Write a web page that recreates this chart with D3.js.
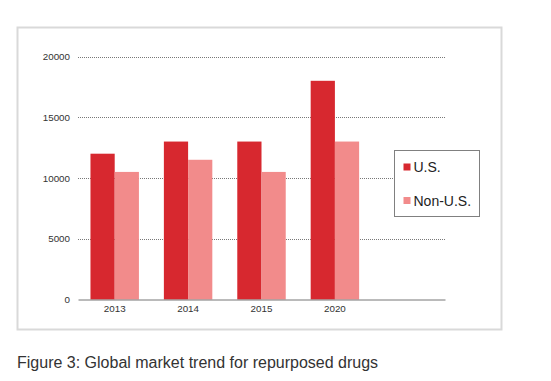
<!DOCTYPE html>
<html><head><meta charset="utf-8">
<script src="https://cdn.jsdelivr.net/npm/d3@7"></script>
<style>body{margin:0;background:#fff;font-family:"Liberation Sans",Arial,sans-serif;}</style>
</head><body>
<svg id="c" width="551" height="381"></svg>
<script>
const categories = ["2013", "2014", "2015", "2020"];
const usValues = [12000, 13000, 13000, 18000];
const nonUsValues = [10500, 11500, 10500, 13000];
const seriesNames = ["U.S.", "Non-U.S."];
const yTicks = [0, 5000, 10000, 15000, 20000];
const caption = "Figure 3: Global market trend for repurposed drugs";

(function () {
const colors = ["#d7282f", "#f28b8b"];
const svg = d3.select("#c");
const ff = "Liberation Sans, Arial, sans-serif";

// outer frame
svg.append("rect").attr("x", 17.5).attr("y", 27.5).attr("width", 484).attr("height", 302)
  .attr("fill", "#fff").attr("stroke", "#d9d9d9").attr("stroke-width", 2);

const pLeft = 78, pRight = 445, pTop = 56.5, pBottom = 299.5;
const x = d3.scaleBand().domain([...categories, ""]).range([pLeft, pRight])
  .paddingInner(0.34).paddingOuter(0.17);
const xs = d3.scaleBand().domain(seriesNames).range([0, x.bandwidth()]);
const y = d3.scaleLinear().domain([0, 20000]).range([pBottom, pTop]);

// gridlines
svg.append("g").selectAll("line").data(yTicks.filter(d => d > 0)).join("line")
  .attr("x1", pLeft).attr("x2", pRight)
  .attr("y1", d => Math.round(y(d)) + 0.5).attr("y2", d => Math.round(y(d)) + 0.5)
  .attr("stroke", "#555").attr("stroke-width", 0.8).attr("stroke-dasharray", "1,1");

// y axis labels
const yAxis = d3.axisLeft(y).tickValues(yTicks).tickSize(0).tickPadding(8).tickFormat(d3.format("d"));
const ya = svg.append("g").attr("transform", `translate(${pLeft},0)`).call(yAxis);
ya.select(".domain").remove();
ya.selectAll("text").attr("font-family", ff).attr("font-size", 9.8).attr("fill", "#333");

// bars
const data = categories.map((c, i) => ({ c, vals: [usValues[i], nonUsValues[i]] }));
const groups = svg.append("g").selectAll("g").data(data).join("g")
  .attr("transform", d => `translate(${x(d.c)},0)`);
groups.selectAll("rect").data(d => d.vals.map((v, j) => ({ v, s: seriesNames[j], j }))).join("rect")
  .attr("x", d => xs(d.s)).attr("width", xs.bandwidth())
  .attr("y", d => y(d.v)).attr("height", d => y(0) - y(d.v))
  .attr("fill", d => colors[d.j]);

// x axis
const xAxis = d3.axisBottom(x).tickSize(0).tickPadding(6);
const xa = svg.append("g").attr("transform", `translate(0,${pBottom})`).call(xAxis);
xa.select(".domain").attr("stroke", "#777").attr("stroke-width", 1);
xa.selectAll("text").attr("font-family", ff).attr("font-size", 9.8).attr("fill", "#333");

// legend
const lg = svg.append("g");
lg.append("rect").attr("x", 394.5).attr("y", 150.5).attr("width", 85).attr("height", 66)
  .attr("fill", "#fff").attr("stroke", "#808080").attr("stroke-width", 1);
const li = lg.selectAll("g").data(seriesNames).join("g")
  .attr("transform", (d, i) => `translate(403.5,${167 + i * 33.5})`);
li.append("rect").attr("x", 0).attr("y", -3.5).attr("width", 7).attr("height", 7)
  .attr("fill", (d, i) => colors[i]);
li.append("text").attr("x", 10).attr("y", 0).attr("dy", "0.36em")
  .attr("font-family", ff).attr("font-size", 14).attr("fill", "#222").text(d => d);

// caption
svg.append("text").attr("x", 17).attr("y", 362).attr("dy", "0.35em")
  .attr("font-family", ff).attr("font-size", 16).attr("fill", "#333").text(caption);
})();
</script>
</body></html>
